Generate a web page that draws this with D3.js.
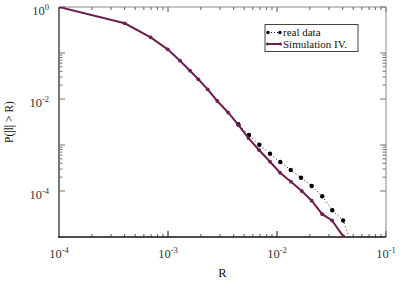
<!DOCTYPE html>
<html><head><meta charset="utf-8">
<script src="https://cdn.jsdelivr.net/npm/d3@7"></script>
<style>body{margin:0;background:#fff}text{font-family:"Liberation Serif","Times New Roman",serif}</style>
</head><body><svg id="c" width="415" height="283"></svg>
<script>
// Data (log10 values)
const simLogR = [-4.0, -3.397, -3.159, -3.003, -2.890, -2.798, -2.722, -2.636, -2.548, -2.447, -2.351, -2.262, -2.165, -2.064, -1.972, -1.872, -1.773, -1.682, -1.585, -1.495, -1.392];
const simLogP = [0.0, -0.354, -0.659, -0.920, -1.167, -1.385, -1.572, -1.789, -2.043, -2.298, -2.572, -2.85, -3.109, -3.363, -3.602, -3.798, -4.0, -4.211, -4.504, -4.639, -4.987];
const realLogR = [-2.447, -2.355, -2.257, -2.162, -2.064, -1.970, -1.874, -1.780, -1.682, -1.585, -1.493, -1.393, -1.297];
const realLogP = [-2.298, -2.550, -2.783, -2.993, -3.189, -3.370, -3.543, -3.711, -3.891, -4.115, -4.417, -4.641, -5.28];
const xTickExps = [-4, -3, -2, -1];
const yTickExps = [0, -2, -4];
const yMinorDecades = [-4, -2];
const legendLabels = ["real data", "Simulation IV."];
const xLabel = "R", yLabel = "P(|l| > R)";

const svg = d3.select("#c");
const L = 59, R = 386, T = 7, B = 237;
const x = d3.scaleLog().domain([1e-4, 1e-1]).range([L, R]);
const y = d3.scaleLog().domain([1e-5, 1]).range([B, T]);
const purple = "#6e1f4f";

svg.append("defs").append("clipPath").attr("id", "clip")
  .append("rect").attr("x", L).attr("y", T).attr("width", R - L).attr("height", B - T);

// frame
svg.append("line").attr("x1", L).attr("x2", R).attr("y1", T).attr("y2", T).attr("stroke", "#888").attr("stroke-width", 1);
svg.append("line").attr("x1", R).attr("x2", R).attr("y1", T).attr("y2", B).attr("stroke", "#888").attr("stroke-width", 1);

// x ticks (bottom inward, top inward)
const xMajor = xTickExps.map(e => Math.pow(10, e));
const xMinor = [];
[-4, -3, -2].forEach(e => { for (let k = 2; k <= 9; k++) xMinor.push(k * Math.pow(10, e)); });
const g = svg.append("g");
xMinor.forEach(v => {
  g.append("line").attr("x1", x(v)).attr("x2", x(v)).attr("y1", B).attr("y2", B - 3).attr("stroke", "#777").attr("stroke-width", 1.2);
  g.append("line").attr("x1", x(v)).attr("x2", x(v)).attr("y1", T).attr("y2", T + 3).attr("stroke", "#777").attr("stroke-width", 1.2);
});
xMajor.forEach(v => {
  g.append("line").attr("x1", x(v)).attr("x2", x(v)).attr("y1", B).attr("y2", B - 6).attr("stroke", "#888").attr("stroke-width", 2);
  g.append("line").attr("x1", x(v)).attr("x2", x(v)).attr("y1", T).attr("y2", T + 5).attr("stroke", "#888").attr("stroke-width", 1.5);
});
// y ticks
const yMajor = [0, -1, -2, -3, -4].map(e => Math.pow(10, e));
const yMinor = [];
yMinorDecades.forEach(e => { for (let k = 2; k <= 9; k++) yMinor.push(k * Math.pow(10, e)); });
yMinor.forEach(v => {
  g.append("line").attr("x1", L).attr("x2", L + 3.5).attr("y1", y(v)).attr("y2", y(v)).attr("stroke", "#777").attr("stroke-width", 1);
  g.append("line").attr("x1", R).attr("x2", R - 3.5).attr("y1", y(v)).attr("y2", y(v)).attr("stroke", "#777").attr("stroke-width", 1);
});
yMajor.forEach(v => {
  g.append("line").attr("x1", L).attr("x2", L + 6).attr("y1", y(v)).attr("y2", y(v)).attr("stroke", "#888").attr("stroke-width", 1.2);
  g.append("line").attr("x1", R).attr("x2", R - 6).attr("y1", y(v)).attr("y2", y(v)).attr("stroke", "#888").attr("stroke-width", 1.2);
});

// axes lines
svg.append("line").attr("x1", L).attr("x2", L).attr("y1", T).attr("y2", B).attr("stroke", "#777").attr("stroke-width", 2);
svg.append("line").attr("x1", L - 1).attr("x2", R).attr("y1", B).attr("y2", B).attr("stroke", "#111").attr("stroke-width", 1.5);

// tick labels
xTickExps.forEach(e => {
  const t = svg.append("text").attr("x", x(Math.pow(10, e))).attr("y", 258).attr("text-anchor", "middle")
    .attr("font-size", 12.5).attr("fill", "#333");
  t.append("tspan").text("10");
  t.append("tspan").attr("dy", -5).attr("font-size", 8.5).text(e);
});
yTickExps.forEach(e => {
  const t = svg.append("text").attr("x", 49).attr("y", y(Math.pow(10, e)) + 8).attr("text-anchor", "end")
    .attr("font-size", 12.5).attr("fill", "#333");
  t.append("tspan").text("10");
  t.append("tspan").attr("dy", -5).attr("font-size", 8.5).text(e);
});
svg.append("text").attr("x", (L + R) / 2).attr("y", 277).attr("text-anchor", "middle").attr("font-size", 12.5).attr("fill", "#111").text(xLabel);
svg.append("text").attr("transform", `translate(13,${(T + B) / 2}) rotate(-90)`).attr("text-anchor", "middle").attr("font-size", 11.5).attr("fill", "#111").text(yLabel);

// data
const plot = svg.append("g").attr("clip-path", "url(#clip)");
const real = realLogR.map((v, i) => [Math.pow(10, v), Math.pow(10, realLogP[i])]);
const sim = simLogR.map((v, i) => [Math.pow(10, v), Math.pow(10, simLogP[i])]);
const line = d3.line().x(d => x(d[0])).y(d => y(d[1]));
plot.append("path").attr("d", line(real)).attr("fill", "none").attr("stroke", "#111").attr("stroke-width", 1).attr("stroke-dasharray", "1,2.5");
plot.selectAll(".rd").data(real.slice(1)).enter().append("circle").attr("cx", d => x(d[0])).attr("cy", d => y(d[1])).attr("r", 2.2).attr("fill", "#000");
plot.append("path").attr("d", line(sim)).attr("fill", "none").attr("stroke", purple).attr("stroke-width", 2);
plot.selectAll(".sd").data(sim).enter().append("circle").attr("cx", d => x(d[0])).attr("cy", d => y(d[1])).attr("r", 1.9).attr("fill", purple);

// legend
const lg = svg.append("g");
lg.append("rect").attr("x", 265).attr("y", 24.5).attr("width", 93).attr("height", 27).attr("fill", "#fff").attr("stroke", "#444").attr("stroke-width", 1);
lg.append("line").attr("x1", 268).attr("x2", 280).attr("y1", 32.5).attr("y2", 32.5).attr("stroke", "#111").attr("stroke-dasharray", "1,2");
[268, 280].forEach(cx => lg.append("circle").attr("cx", cx).attr("cy", 32.5).attr("r", 1.7).attr("fill", "#000"));
lg.append("line").attr("x1", 267).attr("x2", 281).attr("y1", 44).attr("y2", 44).attr("stroke", purple).attr("stroke-width", 2);
[267.5, 280.5].forEach(cx => lg.append("circle").attr("cx", cx).attr("cy", 44).attr("r", 1.6).attr("fill", purple));
lg.append("text").attr("x", 283).attr("y", 36).attr("font-size", 11).attr("fill", "#111").text(legendLabels[0]);
lg.append("text").attr("x", 283).attr("y", 48).attr("font-size", 11).attr("fill", "#111").text(legendLabels[1]);
</script></body></html>
